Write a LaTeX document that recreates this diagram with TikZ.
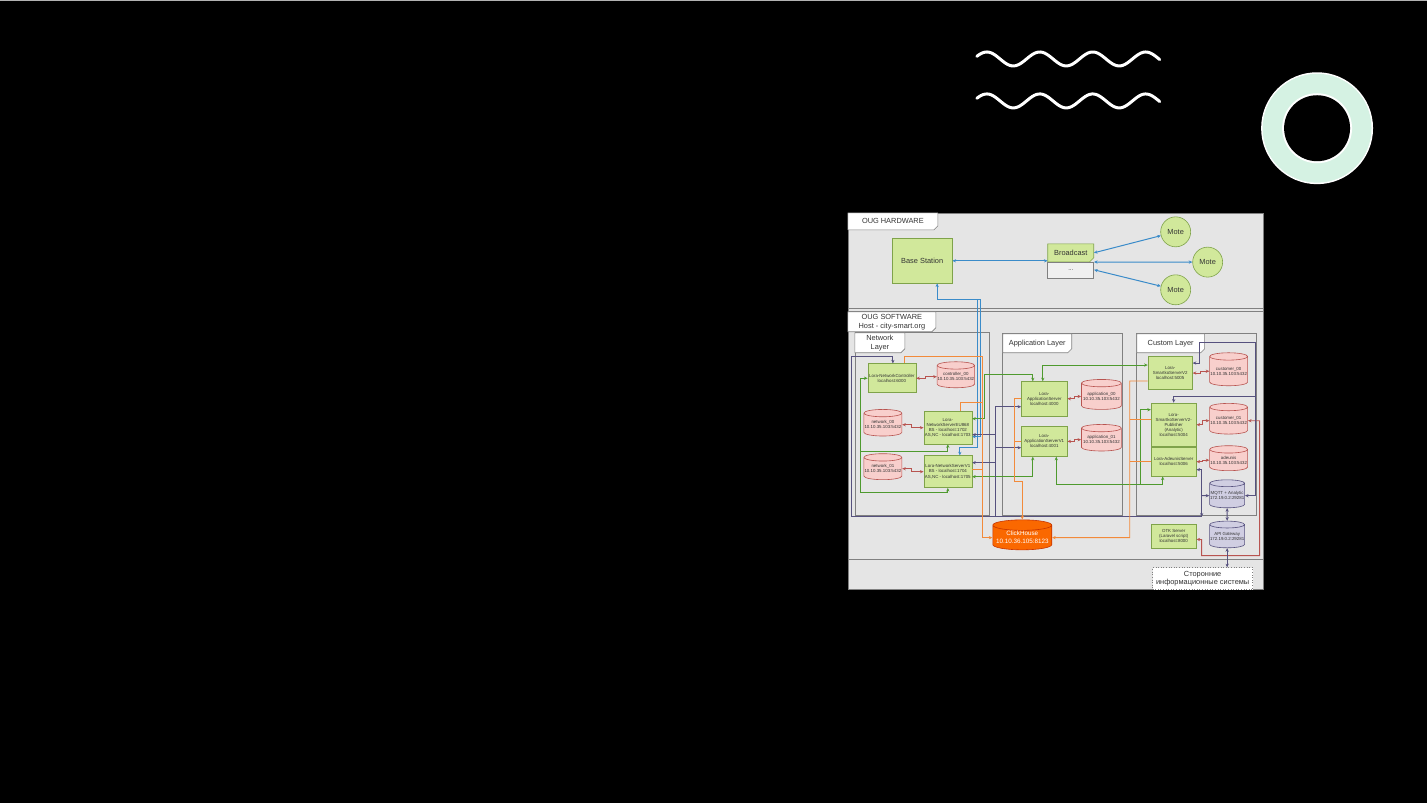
\documentclass[tikz,border=0pt]{standalone}
\usepackage{fontspec}
\setmainfont{Liberation Sans}
\usepackage{tikz}
\usetikzlibrary{arrows.meta}
\usetikzlibrary{shapes.geometric}
\usetikzlibrary{calc}
\usetikzlibrary{positioning}

\definecolor{srvfill}{HTML}{D1E89B}
\definecolor{srvline}{HTML}{7FA34A}
\definecolor{dbfill}{HTML}{F8CFCC}
\definecolor{dbline}{HTML}{B85450}
\definecolor{mqfill}{HTML}{D0CEE2}
\definecolor{mqline}{HTML}{56517E}
\definecolor{chfill}{HTML}{FA6800}
\definecolor{chline}{HTML}{C73500}
\definecolor{panel}{HTML}{E5E5E5}
\definecolor{frameln}{HTML}{808080}
\definecolor{txt}{HTML}{333333}
\definecolor{lnblue}{HTML}{3A8BC9}
\definecolor{lngreen}{HTML}{4E9A2E}
\definecolor{lnpurple}{HTML}{56517E}
\definecolor{lnorange}{HTML}{F28A3A}
\definecolor{lnred}{HTML}{B85450}
\definecolor{ringgreen}{HTML}{D5F2E3}

\tikzset{
  srv/.style={rectangle, draw=srvline, fill=srvfill, line width=0.6pt, inner sep=0pt,
              align=center, text=txt, font=\fontsize{4.4}{5.1}\selectfont},
  db/.style={cylinder, shape border rotate=90, aspect=0.2, draw=dbline, fill=dbfill,
             line width=0.6pt, inner sep=0pt, align=center, text=txt,
             font=\fontsize{4.4}{5.1}\selectfont},
  mqdb/.style={db, draw=mqline, fill=mqfill},
  mote/.style={circle, draw=srvline, fill=srvfill, line width=0.6pt, minimum size=30pt,
               inner sep=0pt, text=txt, font=\fontsize{7.4}{9}\selectfont},
  bigtxt/.style={inner sep=0pt, align=center, text=txt, font=\fontsize{7.4}{9}\selectfont},
  tabline/.style={draw=frameln, fill=white, line width=0.6pt},
  bctop/.style={draw=srvline, fill=srvfill, line width=0.6pt},
  cn/.style={line width=0.9pt},
  hw/.style={line width=1pt, draw=lnblue, <->},
  bl/.style={cn, draw=lnblue},
  gr/.style={cn, draw=lngreen},
  pu/.style={cn, draw=lnpurple},
  org/.style={cn, draw=lnorange},
  rd/.style={cn, draw=lnred, <->}
}

% tab with a cut corner: style, name, x1, y1, x2, y2, text
\newcommand{\tabframe}[7][tabline]{%
  \draw[#1] (#3,#4) -- (#5,#4) -- (#5,{#6-4}) -- ({#5-4},#6) -- (#3,#6) -- cycle;
  \node[bigtxt, minimum width={(#5-#3)*1pt}, minimum height={(#6-#4)*1pt}] (#2)
    at ({(#3+#5)/2},{(#4+#6)/2}) {#7};}

\begin{document}
\begin{tikzpicture}[x=1pt, y=-1pt, >={Stealth[length=3.6pt,width=3.2pt]}]

% slide
\fill[black] (0,0) rectangle (1427,804);
\draw[gray!60, line width=1pt] (0,0.5) -- (1427,0.5);
\useasboundingbox (0,0) rectangle (1427,804);

\foreach \wy in {59,101}
  \draw[white, line width=3pt, line cap=round]
    plot[domain=977:1160, samples=90] (\x,{\wy-7*cos((\x-987)*6.7925)});

\fill[white] (1317.5,128.3) circle[radius=56pt];
\fill[ringgreen] (1317.5,128.3) circle[radius=54.5pt];
\fill[white] (1317.5,128.3) circle[radius=35pt];
\fill[black] (1317.5,128.3) circle[radius=33pt];

% diagram
\fill[panel] (848,213) rectangle (1264,590);
\draw[frameln, line width=0.7pt] (848,213) rectangle (1264,590);
\draw[frameln, line width=0.7pt] (848,309) -- (1264,309) (848,312) -- (1264,312)
  (848,560) -- (1264,560);
\draw[frameln, line width=0.7pt] (855,333) rectangle (990,516)
  (1003,334) rectangle (1122.5,516) (1137,334) rectangle (1257,516);

\tabframe{hwtab}{848}{213}{938}{230}{OUG HARDWARE}
\tabframe{swtab}{848}{312}{936}{332}{OUG SOFTWARE\\Host - city-smart.org}
\tabframe{nltab}{855}{333}{905}{353}{Network\\Layer}
\tabframe{altab}{1003}{334}{1072}{353}{Application Layer}
\tabframe{cltab}{1137}{334}{1205}{353}{Custom Layer}

% hardware
\node[srv, minimum width=60pt, minimum height=44.6pt, font=\fontsize{7.4}{9}\selectfont]
  (bs) at (922.3,261) {Base Station};
\tabframe[bctop]{bc}{1048}{244}{1094}{262}{Broadcast}
\node[draw=frameln, fill=gray!12, line width=0.6pt, minimum width=46pt, minimum height=16pt,
      inner sep=0pt, text=txt, font=\fontsize{6}{7}\selectfont] (bcdots) at (1071,270) {...};
\node[mote] (mote1) at (1176,232) {Mote};
\node[mote] (mote2) at (1208,262.3) {Mote};
\node[mote] (mote3) at (1176,290) {Mote};

\draw[hw] (bs.east) -- (bs.east -| bc.west);
\draw[hw] (bc.east) -- (mote1);
\draw[hw] (bc.south east) -- (mote2);
\draw[hw] (bcdots.east) -- (mote3);

% network layer
\node[srv, minimum width=48pt, minimum height=29pt] (nc) at (892,378.5)
  {Lora-NetworkController\\localhost:6000};
\node[db, minimum width=37.5pt, minimum height=26pt] (ctl) at (956,377)
  {controller\_00\\10.10.35.103:5432};
\node[srv, minimum width=48pt, minimum height=32.6pt] (eu) at (948,428)
  {Lora-\\NetworkServerEU868\\BS - localhost:1702\\AS,NC - localhost:1703};
\node[db, minimum width=38pt, minimum height=26.6pt] (nw0) at (883,425)
  {network\_00\\10.10.35.103:5432};
\node[srv, minimum width=48pt, minimum height=32pt] (v1) at (948,472)
  {Lora-NetworkServerV1\\BS - localhost:1704\\AS,NC - localhost:1705};
\node[db, minimum width=38pt, minimum height=26pt] (nw1) at (883,469)
  {network\_01\\10.10.35.103:5432};

% application layer
\node[srv, minimum width=45.6pt, minimum height=34.3pt] (as0) at (1044.5,399)
  {Lora-\\ApplicationServer\\localhost:4000};
\node[db, minimum width=40pt, minimum height=30pt] (ap0) at (1101.7,396.7)
  {application\_00\\10.10.35.103:5432};
\node[srv, minimum width=45.6pt, minimum height=30pt] (as1) at (1044.5,441.7)
  {Lora-\\ApplicationServerV1\\localhost:4001};
\node[db, minimum width=40pt, minimum height=26.6pt] (ap1) at (1101.7,440)
  {application\_01\\10.10.35.103:5432};

% custom layer
\node[srv, minimum width=44.4pt, minimum height=33.3pt] (sk) at (1170.5,373.3)
  {Lora-\\SmartkoServerV2\\localhost:5005};
\node[db, minimum width=38pt, minimum height=33pt] (cu0) at (1229,371.5)
  {customer\_00\\10.10.35.103:5432};
\node[srv, minimum width=45pt, minimum height=43.4pt] (pub) at (1174,425)
  {Lora-\\SmartkoServerV2-\\Publisher\\(Analytic)\\localhost:5004};
\node[db, minimum width=38pt, minimum height=30.7pt] (cu1) at (1229,421)
  {customer\_01\\10.10.35.103:5432};
\node[srv, minimum width=45pt, minimum height=29pt] (ade) at (1174,462)
  {Lora-AdeunisServer\\localhost:5006};
\node[db, minimum width=38pt, minimum height=25pt] (adb) at (1229,460.5)
  {adeunis\\10.10.35.103:5432};
\node[mqdb, minimum width=35pt, minimum height=28pt] (mq) at (1227.5,496)
  {MQTT + Analytic\\172.19.0.2:29281};
\node[mqdb, minimum width=35pt, minimum height=26.7pt] (api) at (1227.5,536.7)
  {API Gateway\\172.19.0.2:29281};
\node[srv, minimum width=45pt, minimum height=23.3pt] (otk) at (1174,536.7)
  {OTK Server\\(Laravel script)\\localhost:8000};
\node[db, draw=chline, fill=chfill, text=white, minimum width=59pt, minimum height=30pt,
      font=\fontsize{6.3}{8}\selectfont] (ch) at (1022.5,538)
  {ClickHouse\\10.10.36.105:8123};
\node[draw=frameln, dotted, fill=white, line width=0.6pt, minimum width=100pt,
      minimum height=22pt, inner sep=0pt, align=center, text=txt,
      font=\fontsize{7.4}{8.7}\selectfont] (ext) at (1203,579)
  {Сторонние\\информационные системы};

% db links
\draw[rd] (nc.east) -- ++(9,0) |- (ctl.west);
\draw[rd] (nw0.east) -- ++(9,0) |- (eu.west);
\draw[rd] (nw1.east) -- ++(9,0) |- (v1.west);
\draw[rd] (as0.east) -- ++(7,0) |- (ap0.west);
\draw[rd] (as1.east) -- ++(7,0) |- (ap1.west);
\draw[rd] (sk.east) -- ++(8,0) |- (cu0.west);
\draw[rd] (pub.east) -- ++(6,0) |- (cu1.west);
\draw[rd] (ade.east) -- ++(6,0) |- (adb.west);
\draw[rd] (cu1.east) -| (1260,556) -| (1202,540) -- ($(otk.east)+(0,3)$);

% blue
\draw[bl,<->] ($(bs.south)+(15,0)$) |- (981,300) |- ($(eu.east)+(0,9)$);
\draw[bl,->] (978,300) |- (960,448) -- ($(v1.north)+(12,0)$);

% green
\draw[gr,<->] (nc.west) -| (861,493) -| (v1.south);
\draw[gr,->] (861,452) -| (eu.south);
\draw[gr,<->] ($(eu.east)+(0,-9)$) -| (985,375) -| ($(as0.north)+(-11.5,0)$);
\draw[gr,<->] ($(as0.north)+(-1.5,0)$) |- ($(sk.west)+(0,-8)$);
\draw[gr,<->] ($(v1.east)+(0,5)$) -| ($(as1.south)+(-11.5,0)$);
\draw[gr,<->] ($(as1.south)+(12,0)$) |- (1163,485) -- ($(ade.south)+(-11,0)$);
\draw[gr,->] (1141,485) |- ($(pub.west)+(0,-15)$);

% purple
\draw[pu,->] (1202,517) -| (852,357) -| ($(nc.north)+(1,0)$);
\draw[pu,->] (996,517) |- ($(as0.west)+(0,8)$);
\draw[pu,->] (996,435) -- ($(eu.east)+(0,7)$);
\draw[pu,->] (996,448) -- ($(as1.west)+(0,6.3)$);
\draw[pu,->] (996,463) -- ($(v1.east)+(0,-9)$);
\draw[pu,<->] ($(ade.east)+(0,8)$) -| (1202,517);
\draw[pu,->] (1202,496) -- (mq.west);
\draw[pu,<->] ($(sk.east)+(0,-10)$) -- (1200,363.3) |- (1256,343) |- (mq.east);
\draw[pu,->] (1256,397) -| (pub.north);
\draw[pu,<->] (mq.south) -- (api.north);
\draw[pu,<->] (api.south) -- (api.south |- ext.north);

% orange
\draw[org,->] ($(nc.north)+(13,0)$) |- (983,357) |- (ch.west);
\draw[org] ($(eu.north)+(13,0)$) |- (983,403);
\draw[org] ($(v1.east)+(0,-2)$) -- (983,470);
\draw[org,->] (as0.west) -| (1015,482) -| (ch.north);
\draw[org] (as1.west) -- (1015,441.7);
\draw[org,->] ($(sk.west)+(0,8)$) -| (1130,538) -- (ch.east);
\draw[org] ($(pub.west)+(0,-5)$) -- (1130,420);
\draw[org] (ade.west) -- (1130,462);

\end{tikzpicture}
\end{document}
